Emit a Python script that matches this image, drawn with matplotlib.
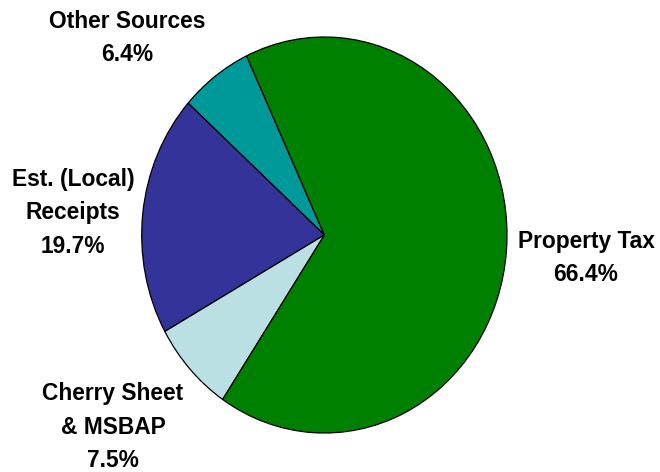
import matplotlib
matplotlib.use("Agg")
import matplotlib.pyplot as plt

categories = ["Other Sources", "Est. (Local)\nReceipts", "Cherry Sheet\n& MSBAP", "Property Tax"]
values = [6.4, 19.7, 7.5, 66.4]
colors = ["#009999", "#333399", "#BBE0E3", "#008000"]

# label centres in figure pixels (x from left, y from top)
label_pos = [(127, 38), (73, 213), (113, 427), (586, 258)]

W, H = 660, 472
fig = plt.figure(figsize=(W / 100, H / 100), dpi=100)
left, right, top, bottom = 141.7, 507.0, 37.0, 433.0
ax = fig.add_axes([left / W, (H - bottom) / H, (right - left) / W, (bottom - top) / H])
ax.pie(values, colors=colors, startangle=115.2, counterclock=True,
       wedgeprops=dict(edgecolor="black", linewidth=0.9), radius=1.0)
ax.set_aspect("auto")
ax.set_xlim(-1, 1)
ax.set_ylim(-1, 1)
ax.axis("off")

for cat, val, (px, py) in zip(categories, values, label_pos):
    fig.text(px / W, 1 - py / H, f"{cat}\n{val:.1f}%", ha="center", va="center",
             fontsize=16.4, fontweight="bold", family=["Liberation Sans", "DejaVu Sans"],
             linespacing=1.6, multialignment="center")

fig.savefig("out.png", dpi=100)
